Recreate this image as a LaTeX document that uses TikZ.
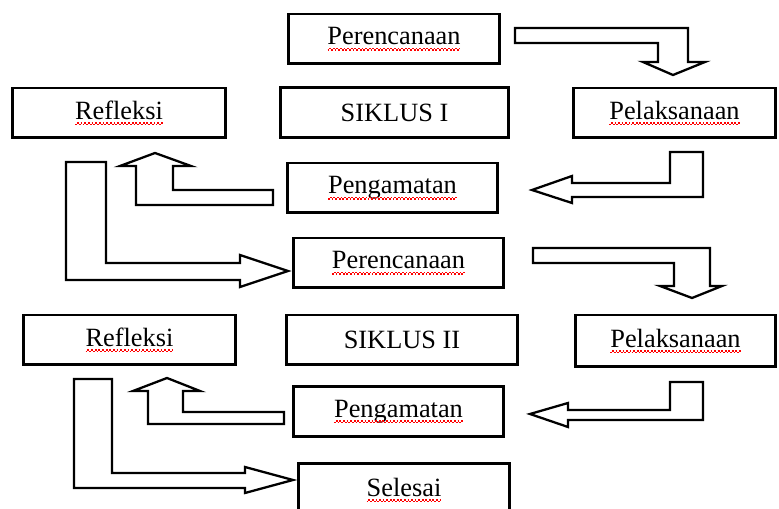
\documentclass[tikz,border=0pt]{standalone}
\usepackage{fontspec}
\setmainfont{Liberation Serif}
\newsavebox\spellbox
\newcommand\spellwave[1]{\sbox\spellbox{#1}\leavevmode\rlap{\usebox\spellbox}%
  \raisebox{-3.4pt}{\color{red}\hbox to\wd\spellbox{\xleaders\hbox{%
        \rule{1pt}{0.8pt}\raisebox{0.8pt}{\rule{1pt}{0.8pt}}}\hfill}}}
\begin{document}
\begin{tikzpicture}[x=0.02cm, y=-0.02cm,
    box/.style={draw, line width=1.7pt, minimum height=1cm, inner
      sep=0pt, font=\fontsize{15}{18}\selectfont},
    bigarrow/.style={draw, line width=1.3pt, line join=miter}]
    \useasboundingbox (0,0) rectangle (779,509);
    \clip (0,0) rectangle (779,509);
    % siklus I
    \begin{scope}[every node/.style={box}]
      \node [minimum width=4.24cm] (per1) at (394,39)
      {\spellwave{Perencanaan}}; \node [minimum width=4.58cm] (sik1)
      at (394.5,112.5) {SIKLUS I}; \node [minimum width=4.06cm] (pel1)
      at (674.5,113) {\spellwave{Pelaksanaan}}; \node [minimum
      width=4.28cm] (ref1) at (119,113) {\spellwave{Refleksi}}; \node
      [minimum width=4.22cm] (pen1) at (392.5,188)
      {\spellwave{Pengamatan}};
    \end{scope}
    % siklus II
    \begin{scope}[every node/.style={box}]
      \node [minimum width=4.22cm] (per2) at (398.5,263)
      {\spellwave{Perencanaan}}; \node [minimum width=4.64cm] (sik2)
      at (402,340) {SIKLUS II}; \node [minimum width=4.02cm,
      minimum height=1.04cm] (pel2) at (675.5,341)
      {\spellwave{Pelaksanaan}}; \node [minimum width=4.26cm] (ref2)
      at (129.5,340) {\spellwave{Refleksi}}; \node [minimum
      width=4.22cm] (pen2) at (398.5,411.5) {\spellwave{Pengamatan}};
      \node [minimum width=4.24cm, minimum height=1.06cm] (sel) at
      (404,490) {\spellwave{Selesai}};
    \end{scope}
    \begin{scope}[bigarrow]
      \draw (515,28) -- (688,28) -- (688,62) -- (705,62) -- (673,75)
      -- (643,62) -- (658,62) -- (658,43) -- (515,43) -- cycle;
      \draw (703,152) -- (703,197) -- (572,197) -- (572,203) --
      (532,190) -- (572,176) -- (572,183) -- (670,183) -- (670,152) --
      cycle; \draw (273,190) -- (273,205) -- (136,205) -- (136,166) --
      (120,166) -- (155,153) -- (191,166) -- (173,166) -- (173,190) --
      cycle; \draw (66,162) -- (106,162) -- (106,263) -- (240,263) --
      (240,255) -- (288,271) -- (240,287) -- (240,280) -- (66,280) --
      cycle;
      \draw (533,248) -- (710,248) -- (710,286) -- (722,286) --
      (692,298) -- (660,286) -- (674,286) -- (674,263) -- (533,263) --
      cycle; \draw (703,382) -- (703,420) -- (568,420) -- (568,427) --
      (530,414) -- (568,403) -- (568,410) -- (670,410) -- (670,382) --
      cycle; \draw (284,412) -- (284,424) -- (148,424) -- (148,391) --
      (133,391) -- (167,378) -- (200,391) -- (183,391) -- (183,412) --
      cycle; \draw (74,379) -- (112,379) -- (112,473) -- (245,473) --
      (245,467) -- (293,480) -- (245,493) -- (245,488) -- (74,488) --
      cycle;
    \end{scope}
  \end{tikzpicture}
\end{document}
